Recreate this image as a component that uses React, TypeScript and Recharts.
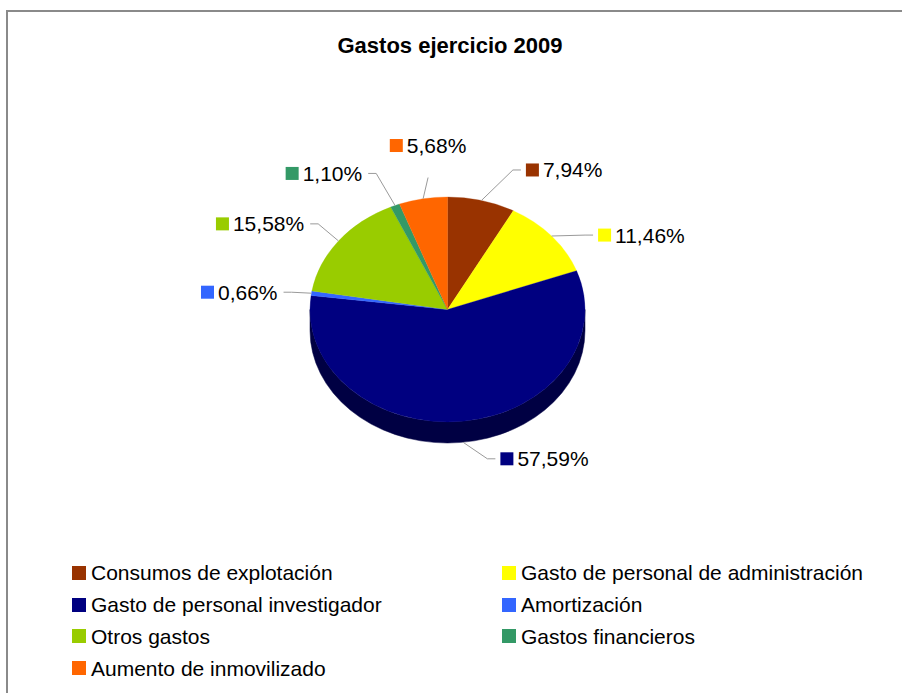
import { Legend, Pie, PieChart } from "recharts";

const categories = [
  "Consumos de explotación",
  "Gasto de personal de administración",
  "Gasto de personal investigador",
  "Amortización",
  "Otros gastos",
  "Gastos financieros",
  "Aumento de inmovilizado",
];
const shares = [7.94, 11.46, 57.59, 0.66, 15.58, 1.1, 5.68];
const colors = ["#993300", "#FFFF00", "#000080", "#3366FF", "#99CC00", "#339966", "#FF6600"];

// label placement tweaks (degrees), the way the office chart spreads its labels
const LABEL_ANGLE_SHIFT = [13, 12.5, -11.5, -2, -4.5, -7.5, 3.7];

const W = 902;
const H = 693;
const CX = 447.5;
const CY = 309.5;
const RX = 137.5;
const TILT = 112.5 / 137.5;
const DEPTH = 21;
const LABEL_RX = 171;
const LABEL_RY = 157;
const RAD = Math.PI / 180;
const FONT = '"Liberation Sans", Arial, sans-serif';
const FS = 21;

function darken(hex: string, k: number) {
  const n = parseInt(hex.slice(1), 16);
  const r = Math.round(((n >> 16) & 255) * k);
  const g = Math.round(((n >> 8) & 255) * k);
  const b = Math.round((n & 255) * k);
  return `rgb(${r},${g},${b})`;
}

const data = categories.map((name, i) => ({
  name,
  value: shares[i],
  fill: colors[i],
  side: darken(colors[i], 0.52),
}));

let measureCtx: CanvasRenderingContext2D | null = null;
function textWidth(s: string) {
  if (!measureCtx) measureCtx = document.createElement("canvas").getContext("2d");
  if (!measureCtx) return s.length * FS * 0.55;
  measureCtx.font = `${FS}px ${FONT}`;
  return measureCtx.measureText(s).width;
}

const pct = (v: number) => v.toFixed(2).replace(".", ",") + "%";

// top face flattened into an ellipse, plus the visible front wall
function TiltedSlice(props: any) {
  const { cx, cy, outerRadius, startAngle, endAngle, fill, payload } = props;
  const rx = outerRadius;
  const ry = outerRadius * TILT;
  const pt = (a: number, dy = 0) => `${cx + rx * Math.cos(a * RAD)},${cy - ry * Math.sin(a * RAD) + dy}`;
  const hi = Math.max(startAngle, endAngle);
  const lo = Math.min(startAngle, endAngle);
  const large = hi - lo > 180 ? 1 : 0;
  const top = `M${cx},${cy} L${pt(hi)} A${rx},${ry} 0 ${large} 1 ${pt(lo)} Z`;

  const a1 = Math.min(hi, 0);
  const a2 = Math.max(lo, -180);
  const wall =
    a1 > a2
      ? `M${pt(a1)} A${rx},${ry} 0 0 1 ${pt(a2)} L${pt(a2, DEPTH)} A${rx},${ry} 0 0 0 ${pt(a1, DEPTH)} Z`
      : null;

  return (
    <g>
      {wall && <path d={wall} fill={payload?.side ?? fill} stroke={payload?.side ?? fill} strokeWidth={0.5} />}
      <path d={top} fill={fill} stroke={fill} strokeWidth={0.3} />
    </g>
  );
}

function SliceLabel(props: any) {
  const { cx, cy, outerRadius, midAngle, index, value } = props;
  const rx = outerRadius;
  const ry = outerRadius * TILT;
  const t = midAngle * RAD;
  const front = Math.sin(t) < 0;
  const ax = cx + rx * Math.cos(t);
  const ay = cy - ry * Math.sin(t) + (front ? DEPTH : 0);

  const phi = (90 - midAngle + (LABEL_ANGLE_SHIFT[index] ?? 0)) * RAD;
  const s = Math.sin(phi);
  const c = Math.cos(phi);
  const lx = cx + LABEL_RX * s;
  const ly = cy - LABEL_RY * c;

  const text = pct(value);
  const tw = textWidth(text);
  const color = colors[index];
  const line = "#9a9a9a";

  if (s > 0.3) {
    return (
      <g>
        <polyline points={`${ax},${ay} ${lx - 13},${ly} ${lx - 5},${ly}`} fill="none" stroke={line} strokeWidth={1} />
        <rect x={lx} y={ly - 6.5} width={13} height={13} fill={color} />
        <text x={lx + 17} y={ly + 7.5} fontSize={FS} fontFamily={FONT} fill="#000">{text}</text>
      </g>
    );
  }
  if (s < -0.3) {
    return (
      <g>
        <polyline points={`${ax},${ay} ${lx + 14},${ly} ${lx + 6},${ly}`} fill="none" stroke={line} strokeWidth={1} />
        <rect x={lx - tw - 17} y={ly - 6.5} width={13} height={13} fill={color} />
        <text x={lx} y={ly + 7.5} textAnchor="end" fontSize={FS} fontFamily={FONT} fill="#000">{text}</text>
      </g>
    );
  }
  const boxW = 17 + tw;
  const left = lx - boxW / 2;
  const mid = ly - 8;
  return (
    <g>
      <line x1={ax} y1={ay} x2={lx} y2={ly + 24} stroke={line} strokeWidth={1} />
      <rect x={left} y={mid - 6.5} width={13} height={13} fill={color} />
      <text x={left + 17} y={mid + 7.5} fontSize={FS} fontFamily={FONT} fill="#000">{text}</text>
    </g>
  );
}

function LegendGrid() {
  return (
    <div style={{ display: "grid", gridTemplateColumns: "430px 380px", fontFamily: FONT, fontSize: FS, color: "#000" }}>
      {categories.map((name, i) => (
        <div key={name} style={{ display: "flex", alignItems: "center", height: 31.8, whiteSpace: "nowrap" }}>
          <span style={{ display: "inline-block", width: 14, height: 14, background: colors[i], marginRight: 5 }} />
          <span style={{ lineHeight: 1 }}>{name}</span>
        </div>
      ))}
    </div>
  );
}

export default function App() {
  return (
    <div style={{ position: "fixed", left: 0, top: 0, width: W, height: H, overflow: "hidden", background: "#fff" }}>
      <div
        style={{
          position: "absolute",
          left: 6,
          top: 10,
          width: W + 20,
          height: H + 20,
          borderLeft: "2px solid #8a8a8a",
          borderTop: "2px solid #8a8a8a",
        }}
      />
      <div
        style={{
          position: "absolute",
          left: 0,
          width: 900,
          top: 35,
          textAlign: "center",
          fontFamily: FONT,
          fontWeight: "bold",
          fontSize: 22,
          lineHeight: "22px",
          color: "#000",
        }}
      >
        Gastos ejercicio 2009
      </div>
      <div style={{ position: "absolute", left: 0, top: 0 }}>
        <PieChart width={W} height={H} margin={{ top: 0, right: 0, bottom: 0, left: 0 }}>
          <Pie
            data={data}
            dataKey="value"
            nameKey="name"
            cx={CX}
            cy={CY}
            outerRadius={RX}
            startAngle={90}
            endAngle={-270}
            stroke="none"
            shape={TiltedSlice}
            label={SliceLabel}
            labelLine={false}
            isAnimationActive={false}
          />
          <Legend
            content={<LegendGrid />}
            wrapperStyle={{ position: "absolute", left: 72, top: 557, width: 820 }}
          />
        </PieChart>
      </div>
    </div>
  );
}
